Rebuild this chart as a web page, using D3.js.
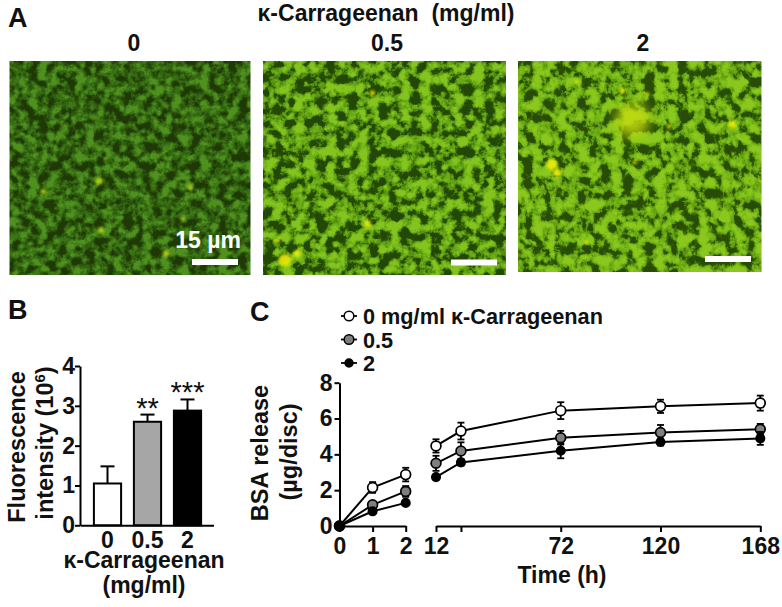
<!DOCTYPE html>
<html>
<head>
<meta charset="utf-8">
<script src="https://cdn.jsdelivr.net/npm/d3@7"></script>
<style>
	html, body { margin: 0; padding: 0; background: #fff; }
	svg { display: block; }
	text { font-family: "Liberation Sans", Arial, sans-serif; font-weight: bold; fill: #111; }
	.tick text { font-size: 23px; }
</style>
</head>
<body>
<div id="chart"></div>
<script>
// panel A: micrographs
const doses = ["0", "0.5", "2"];
// bright spots as [x %, y %, radius %] of each frame
const spots = [
	[[14, 61, 1.2], [65, 90, 1.4], [38, 79, 1.3], [72, 74, 0.9], [75, 59, 1.1], [35, 27, 0.6], [37, 56, 1.5]],
	[[9, 93, 2.6], [14, 90, 1.4], [45, 15, 1.1], [43, 76, 1.4], [6, 84, 0.9]],
	[[43, 14, 1.1], [24, 10, 0.8], [53, 16, 1], [88, 30, 1.6], [47, 28, 7], [14, 49, 2.2], [16, 53, 1.7], [48, 48, 0.8], [28, 86, 0.8], [62, 31, 0.9], [0, 92, 0.8], [99, 57, 0.6]]
];

// panel B: fluorescence
const barLabels = ["0", "0.5", "2"];
const barValues = [1.05, 2.6, 2.88];
const barErrors = [0.43, 0.18, 0.28];
const barFills = ["#fff", "#a6a6a6", "#000"];
const barStars = ["", "**", "***"];

// panel C: BSA release
const timesEarly = [0, 1, 2];
const timesLate = [12, 24, 72, 120, 168];
const lateTicks = [12, 72, 120, 168];
const seriesNames = ["0 mg/ml κ-Carrageenan", "0.5", "2"];
const earlyValues = [[0, 2.15, 2.87], [0, 1.18, 1.93], [0, 0.82, 1.29]];
const earlyErrors = [[0, 0.3, 0.38], [0, 0.15, 0.3], [0, 0.12, 0.1]];
const lateValues = [
	[4.47, 5.3, 6.44, 6.68, 6.86],
	[3.5, 4.19, 4.93, 5.22, 5.4],
	[2.73, 3.55, 4.2, 4.69, 4.89]
];
const lateErrors = [
	[0.37, 0.47, 0.47, 0.37, 0.42],
	[0.42, 0.48, 0.38, 0.42, 0.3],
	[0.1, 0.17, 0.42, 0.2, 0.36]
];
const markerFills = ["#fff", "#7f7f7f", "#000"];

const svg = d3.select("#chart")
	.append("svg")
		.attr("width", 782)
		.attr("height", 607);
const defs = svg.append("defs");

// ---- panel A
const frames = [
	{x: 9.5, w: 241, y: 61, h: 214, seed: 4, freq: 0.105,
		ramp: ["#1e3a06", "#26480a", "#2e5c0e", "#386e14", "#417c18", "#4f9020"]},
	{x: 263, w: 243, y: 61, h: 214, seed: 11, freq: 0.095,
		ramp: ["#244806", "#2a5407", "#4f880e", "#64a414", "#72b51a", "#86c41e"]},
	{x: 518, w: 243.5, y: 61, h: 211, seed: 23, freq: 0.09,
		ramp: ["#284c06", "#336007", "#5e9810", "#70b016", "#7ebf1a", "#8cc81c"]}
];

frames.forEach((f, i) => {
	const rgb = f.ramp.map((c) => d3.rgb(c));
	const filter = defs.append("filter")
		.attr("id", `micro${i}`)
		.attr("x", 0).attr("y", 0).attr("width", 1).attr("height", 1)
		.attr("color-interpolation-filters", "sRGB");
	filter.append("feTurbulence")
		.attr("type", "fractalNoise")
		.attr("baseFrequency", f.freq)
		.attr("numOctaves", 5)
		.attr("seed", f.seed);
	// mix two noise channels, it breaks the streaks of a single one
	filter.append("feColorMatrix")
		.attr("type", "matrix")
		.attr("values", "2.2 2.2 0 0 -1.7  2.2 2.2 0 0 -1.7  2.2 2.2 0 0 -1.7  0 0 0 0 1");
	const ct = filter.append("feComponentTransfer");
	["R", "G", "B"].forEach((ch, k) => {
		const key = ["r", "g", "b"][k];
		ct.append(`feFunc${ch}`)
			.attr("type", "table")
			.attr("tableValues", rgb.map((c) => (c[key] / 255).toFixed(3)).join(" "));
	});
	filter.append("feGaussianBlur").attr("stdDeviation", 0.7);

	const sx = d3.scaleLinear().domain([0, 100]).range([f.x, f.x + f.w]);
	const sy = d3.scaleLinear().domain([0, 100]).range([f.y, f.y + f.h]);
	const clip = defs.append("clipPath").attr("id", `clip${i}`);
	clip.append("rect").attr("x", f.x).attr("y", f.y).attr("width", f.w).attr("height", f.h);

	const g = svg.append("g").attr("clip-path", `url(#clip${i})`);
	g.append("rect")
		.attr("x", f.x).attr("y", f.y)
		.attr("width", f.w).attr("height", f.h)
		.attr("filter", `url(#micro${i})`);
	g.selectAll("circle")
		.data(spots[i])
		.join("circle")
			.attr("cx", (d) => sx(d[0]))
			.attr("cy", (d) => sy(d[1]))
			.attr("r", (d) => d[2] * f.w / 100)
			.style("fill", (d) => d[2] > 4 ? "#c4dc10" : (i == 0 ? "#b8d818" : "#f0ee08"))
			.style("opacity", (d) => d[2] > 4 ? 0.85 : 0.9)
			.style("filter", (d) => `blur(${d[2] > 4 ? 6 : 1.4}px)`);
});

const addText = (x, y, str, size, anchor) => svg.append("text")
	.attr("x", x).attr("y", y)
	.attr("text-anchor", anchor || "middle")
	.style("font-size", `${size}px`)
	.text(str);

addText(8, 27, "A", 27, "start");
addText(8, 319, "B", 27, "start");
addText(250, 321, "C", 27, "start");
addText(386, 21, "κ-Carrageenan  (mg/ml)", 23).attr("xml:space", "preserve").style("white-space", "pre");
[134, 387, 643].forEach((x, i) => addText(x, 51, doses[i], 23));

addText(208, 248, "15 µm", 23).style("fill", "#fff");
[[192, 259], [451, 259.5], [705, 256]].forEach((p) => {
	svg.append("rect")
		.attr("x", p[0]).attr("y", p[1])
		.attr("width", 46).attr("height", 6)
		.style("fill", "#fff");
});

// ---- panel B
const bx = d3.scaleBand()
	.domain(barLabels)
	.range([87.5, 207.5])
	.paddingInner(0.32)
	.paddingOuter(0.16);
const by = d3.scaleLinear().domain([0, 4]).range([525.3, 366]);

const panelB = svg.append("g");
barValues.forEach((v, i) => {
	const cx = bx(barLabels[i]) + bx.bandwidth() / 2;
	panelB.append("line")
		.attr("x1", cx).attr("x2", cx)
		.attr("y1", by(v)).attr("y2", by(v + barErrors[i]))
		.style("stroke", "#000").style("stroke-width", 2);
	panelB.append("line")
		.attr("x1", cx - 7).attr("x2", cx + 7)
		.attr("y1", by(v + barErrors[i])).attr("y2", by(v + barErrors[i]))
		.style("stroke", "#000").style("stroke-width", 2);
	panelB.append("rect")
		.attr("x", bx(barLabels[i]))
		.attr("y", by(v))
		.attr("width", bx.bandwidth())
		.attr("height", by(0) - by(v))
		.style("fill", barFills[i])
		.style("stroke", "#000")
		.style("stroke-width", 2);
	if (barStars[i]) {
		panelB.append("text")
			.attr("x", cx)
			.attr("y", by(v + barErrors[i]) + 3)
			.attr("text-anchor", "middle")
			.style("font-size", "29px")
			.style("font-weight", "normal")
			.text(barStars[i]);
	}
});

const styleAxis = (g) => {
	g.selectAll(".domain").style("stroke", "#000").style("stroke-width", 2);
	g.selectAll(".tick line").style("stroke", "#000").style("stroke-width", 2);
	g.selectAll(".tick text").style("fill", "#111");
};

panelB.append("g")
	.attr("transform", "translate(80,0)")
	.call(d3.axisLeft(by).tickValues([0, 1, 2, 3, 4]).tickFormat(d3.format("d")).tickSize(5).tickPadding(0).tickSizeOuter(0))
	.call(styleAxis);
panelB.append("g")
	.attr("transform", "translate(0,525.3)")
	.call(d3.axisBottom(d3.scaleLinear().domain([0, 1]).range([80, 213.5])).tickValues([]).tickSizeOuter(0))
	.call(styleAxis);
barLabels.forEach((b) => addText(bx(b) + bx.bandwidth() / 2, 548, b, 23));
addText(144, 568, "κ-Carrageenan", 23);
addText(144, 593, "(mg/ml)", 23);

const rotated = (x, y, str) => svg.append("text")
	.attr("transform", `translate(${x},${y}) rotate(-90)`)
	.attr("text-anchor", "middle")
	.style("font-size", "23.5px")
	.text(str);
rotated(25, 447, "Fluorescence");
const intensity = rotated(53, 443, "intensity (10");
intensity.append("tspan").attr("dy", -8).style("font-size", "15px").text("6");
intensity.append("tspan").attr("dy", 8).text(")");

// ---- panel C
const xEarly = d3.scaleLinear().domain([0, 2]).range([339.5, 405.7]);
const xLate = d3.scaleLinear().domain([12, 168]).range([436, 760.3]);
const cy = d3.scaleLinear().domain([0, 8]).range([526, 382.7]);

const panelC = svg.append("g");
panelC.append("g")
	.attr("transform", "translate(339.5,0)")
	.call(d3.axisLeft(cy).tickValues([0, 2, 4, 6, 8]).tickFormat(d3.format("d")).tickSize(5).tickPadding(2).tickSizeOuter(0))
	.call(styleAxis);
panelC.append("g")
	.attr("transform", "translate(0,526)")
	.call(d3.axisBottom(xEarly).tickValues(timesEarly).tickFormat(d3.format("d")).tickSize(6).tickPadding(6).tickSizeOuter(0))
	.call(styleAxis);
panelC.append("g")
	.attr("transform", "translate(0,526)")
	.call(d3.axisBottom(xLate).tickValues(timesLate).tickSize(6).tickPadding(6).tickSizeOuter(0)
		.tickFormat((d) => lateTicks.includes(d) ? d : ""))
	.call(styleAxis);

const drawSeries = (times, values, errors, x, idx) => {
	const pts = times.map((t, j) => ({t: t, v: values[j], e: errors[j]}));
	const line = d3.line()
		.x((d) => x(d.t))
		.y((d) => cy(d.v));
	panelC.append("path")
		.datum(pts)
		.attr("d", line)
		.style("fill", "none")
		.style("stroke", "#000")
		.style("stroke-width", 2);
	pts.filter((d) => d.e > 0).forEach((d) => {
		const x0 = x(d.t);
		const ends = [d.v - d.e, d.v + d.e];
		panelC.append("line")
			.attr("x1", x0).attr("x2", x0)
			.attr("y1", cy(ends[0])).attr("y2", cy(ends[1]))
			.style("stroke", "#000").style("stroke-width", 1.8);
		ends.forEach((val) => panelC.append("line")
			.attr("x1", x0 - 3.5).attr("x2", x0 + 3.5)
			.attr("y1", cy(val)).attr("y2", cy(val))
			.style("stroke", "#000").style("stroke-width", 1.8));
	});
	panelC.selectAll(null)
		.data(pts)
		.join("circle")
			.attr("cx", (d) => x(d.t))
			.attr("cy", (d) => cy(d.v))
			.attr("r", idx == 2 ? 4.2 : 4.9)
			.style("fill", markerFills[idx])
			.style("stroke", "#000")
			.style("stroke-width", 1.7);
};
seriesNames.forEach((name, i) => {
	drawSeries(timesEarly, earlyValues[i], earlyErrors[i], xEarly, i);
	drawSeries(timesLate, lateValues[i], lateErrors[i], xLate, i);
});

// legend
const legendY = d3.scalePoint().domain(seriesNames).range([316, 363]);
seriesNames.forEach((name, i) => {
	const y = legendY(name);
	svg.append("line")
		.attr("x1", 341).attr("x2", 357)
		.attr("y1", y).attr("y2", y)
		.style("stroke", "#000").style("stroke-width", 1.8);
	svg.append("circle")
		.attr("cx", 349).attr("cy", y)
		.attr("r", i == 2 ? 4 : 4.8)
		.style("fill", markerFills[i])
		.style("stroke", "#000").style("stroke-width", 1.5);
	addText(363, y + 3 + 5, name, 21.7, "start");
});

rotated(268, 453, "BSA release");
rotated(297, 452, "(µg/disc)");
addText(562, 583, "Time (h)", 23);
</script>
</body>
</html>
